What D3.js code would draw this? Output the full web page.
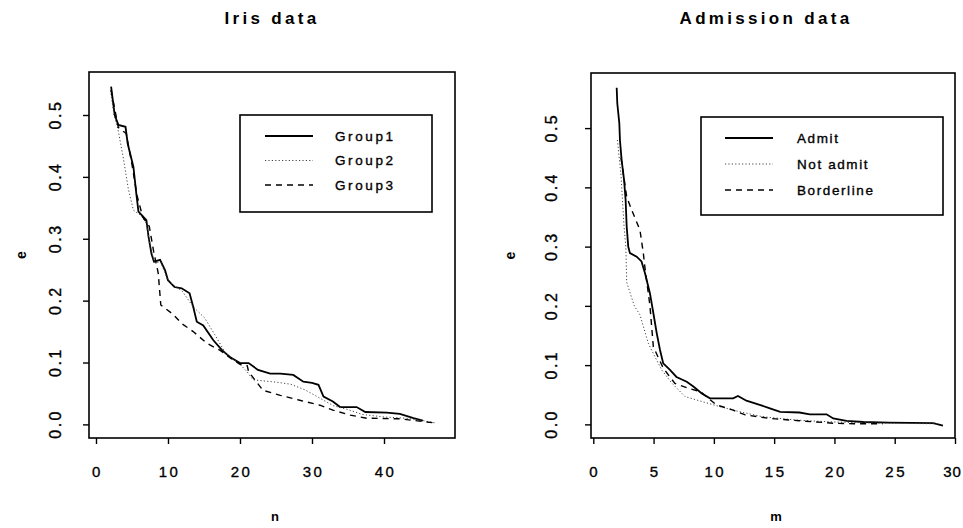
<!DOCTYPE html>
<html>
<head>
<meta charset="utf-8">
<script src="https://cdn.jsdelivr.net/npm/d3@7"></script>
<style>
  body { margin: 0; background: #fff; }
  text { font-family: "Liberation Sans", Arial, sans-serif; fill: #000; }
</style>
</head>
<body>
<svg width="963" height="528"></svg>
<script>
// values: [x, e]
var irisGroup1 = [[2.1,0.546],[2.6,0.50],[3.1,0.484],[4.1,0.481],[4.4,0.454],[5.2,0.416],[5.6,0.373],[5.9,0.344],
  [7.0,0.330],[7.3,0.303],[7.7,0.276],[8.05,0.263],[8.9,0.266],[9.6,0.249],[10.0,0.233],[10.9,0.222],[11.9,0.220],
  [13.0,0.212],[13.5,0.190],[14.0,0.166],[14.9,0.160],[16.3,0.136],[17.5,0.120],[18.6,0.109],[20.0,0.099],[21.2,0.099],
  [22.5,0.088],[24.2,0.082],[25.6,0.082],[27.4,0.080],[28.8,0.069],[30.0,0.067],[30.9,0.064],[31.6,0.045],[32.9,0.037],
  [33.9,0.028],[36.2,0.028],[37.4,0.020],[40.4,0.019],[42.2,0.017],[44.1,0.010],[45.4,0.006]];
var irisGroup2 = [[2.0,0.54],[2.5,0.50],[3.05,0.477],[3.8,0.43],[4.5,0.38],[5.2,0.346],[6.2,0.338],[7.0,0.325],
  [7.5,0.29],[8.1,0.262],[9.0,0.262],[10.0,0.232],[12.0,0.215],[13.5,0.19],[15.1,0.172],[16.5,0.145],[18.0,0.115],
  [20.0,0.097],[21.0,0.085],[21.8,0.072],[25.2,0.068],[27.0,0.065],[29.0,0.056],[31.0,0.043],[33.0,0.030],[35.0,0.024],
  [37.0,0.016],[40.0,0.012],[43.0,0.010],[45.0,0.007],[47.3,0.002]];
var irisGroup3 = [[2.1,0.54],[3.1,0.48],[4.2,0.47],[5.0,0.42],[5.7,0.37],[6.5,0.335],[7.4,0.32],[8.0,0.28],[8.65,0.244],
  [9.0,0.193],[10.7,0.178],[11.9,0.163],[13.5,0.150],[15.4,0.131],[17.2,0.120],[18.6,0.108],[20.0,0.097],[21.0,0.095],
  [21.2,0.085],[23.2,0.055],[25.6,0.047],[28.3,0.039],[31.1,0.031],[32.9,0.023],[35.3,0.015],[37.6,0.010],[42.2,0.009],
  [47.3,0.002]];

var admit = [[1.94,0.568],[1.99,0.542],[2.16,0.508],[2.21,0.480],[2.35,0.446],[2.55,0.413],[2.68,0.379],[2.77,0.334],
  [2.9,0.300],[3.04,0.289],[3.6,0.283],[4.0,0.275],[4.29,0.255],[4.7,0.221],[4.98,0.188],[5.26,0.154],[5.53,0.126],
  [5.8,0.103],[6.36,0.092],[6.9,0.080],[7.75,0.072],[8.3,0.064],[9.0,0.052],[9.68,0.044],[11.6,0.044],[12.0,0.048],
  [12.7,0.040],[13.8,0.033],[14.65,0.027],[15.5,0.021],[17.1,0.020],[17.96,0.017],[19.35,0.017],[19.9,0.010],[21.0,0.006],
  [22.4,0.004],[24.5,0.003],[28.2,0.002],[29.0,-0.002]];
var notAdmit = [[2.0,0.48],[2.3,0.42],[2.55,0.334],[2.7,0.30],[2.77,0.24],[3.4,0.20],[3.87,0.185],[4.56,0.137],
  [4.84,0.125],[5.67,0.092],[6.5,0.07],[7.6,0.047],[9.1,0.038],[10.5,0.030],[12.0,0.022],[14.0,0.013],[17.0,0.007],
  [20.0,0.004],[24.0,0.002],[28.5,0.001]];
var borderline = [[2.3,0.45],[2.77,0.384],[3.18,0.362],[3.87,0.328],[4.15,0.289],[4.25,0.270],[4.7,0.20],[4.98,0.131],
  [5.8,0.095],[6.77,0.069],[7.9,0.061],[8.9,0.055],[10.2,0.033],[11.6,0.024],[12.6,0.016],[14.65,0.010],[17.1,0.006],
  [19.9,0.002],[21.6,0.001],[24.0,0.001]];

var irisTicksX = [0, 10, 20, 30, 40];
var admTicksX = [0, 5, 10, 15, 20, 25, 30];
var ticksY = [0, 0.1, 0.2, 0.3, 0.4, 0.5];
var irisLabels = ["Group1", "Group2", "Group3"];
var admLabels = ["Admit", "Not admit", "Borderline"];

var dashes = [null, "1.2,2.2", "6,5"];
var widths = [1.8, 1, 1.4];

var svg = d3.select("svg");

function panel(opt) {
  var x = d3.scaleLinear().domain(opt.xdom).range([opt.left, opt.right]);
  var y = d3.scaleLinear().domain(opt.ydom).range([opt.bottom, opt.top]);
  var g = svg.append("g");

  var line = d3.line()
      .x(function(d) { return x(d[0]); })
      .y(function(d) { return y(d[1]); });

  g.selectAll("path.curve")
    .data(opt.series)
    .enter().append("path")
      .attr("class", "curve")
      .attr("d", line)
      .attr("fill", "none")
      .attr("stroke", function(d, i) { return i == 1 ? "#444" : "#000"; })
      .attr("stroke-width", function(d, i) { return widths[i]; })
      .attr("stroke-dasharray", function(d, i) { return dashes[i]; });

  // box
  g.append("rect")
      .attr("x", opt.left).attr("y", opt.top)
      .attr("width", opt.right - opt.left).attr("height", opt.bottom - opt.top)
      .attr("fill", "none").attr("stroke", "#000").attr("stroke-width", 1.6);

  var xAxis = g.append("g")
      .attr("transform", "translate(0," + opt.bottom + ")")
      .call(d3.axisBottom(x).tickValues(opt.xticks).tickSize(6).tickPadding(22).tickFormat(d3.format("d")));
  xAxis.select(".domain").remove();
  xAxis.selectAll("line").attr("stroke-width", 1.4);
  xAxis.selectAll("text")
      .attr("font-size", 15).attr("letter-spacing", 2.5).attr("dx", 1)
      .attr("stroke", "#000").attr("stroke-width", 0.35)
      .style("font-family", "Liberation Sans, Arial");
  // keep the last label inside the page edge
  if (x(opt.xticks[opt.xticks.length - 1]) > 945) {
    xAxis.selectAll("text").filter(function(d) { return d == opt.xticks[opt.xticks.length - 1]; })
        .attr("letter-spacing", 1).attr("dx", -3);
  }

  var yAxis = g.append("g")
      .attr("transform", "translate(" + opt.left + ",0)")
      .call(d3.axisLeft(y).tickValues(ticksY).tickSize(6).tickFormat(d3.format(".1f")));
  yAxis.select(".domain").remove();
  yAxis.selectAll("line").attr("stroke-width", 1.4);
  yAxis.selectAll("text")
      .attr("font-size", 16).attr("letter-spacing", 2.5)
      .attr("stroke", "#000").attr("stroke-width", 0.35)
      .style("font-family", "Liberation Sans, Arial")
      .attr("text-anchor", "middle").attr("dy", 0).attr("x", 1).attr("y", 0)
      .attr("transform", "translate(" + (-opt.tickLab) + ",0) rotate(-90) translate(0,6)");

  g.append("text")
      .attr("x", opt.titleX).attr("y", 24)
      .attr("text-anchor", "middle").attr("font-size", 17).attr("font-weight", "bold")
      .attr("letter-spacing", 3.3)
      .text(opt.title);

  g.append("text")
      .attr("x", (opt.left + opt.right) / 2 + 3).attr("y", 521)
      .attr("text-anchor", "middle").attr("font-size", 13).attr("font-weight", "bold")
      .text(opt.xlab);

  g.append("text")
      .attr("transform", "translate(" + (opt.left - opt.ylabOff) + "," + ((opt.top + opt.bottom) / 2) + ") rotate(-90)")
      .attr("text-anchor", "middle").attr("font-size", 14).attr("font-weight", "bold")
      .text("e");

  // legend
  var L = opt.legend;
  var lg = g.append("g");
  lg.append("rect")
      .attr("x", L.x).attr("y", L.y).attr("width", L.w).attr("height", L.h)
      .attr("fill", "#fff").attr("stroke", "#000").attr("stroke-width", 1.6);
  var row = lg.selectAll("g.row")
    .data(opt.labels)
    .enter().append("g")
      .attr("class", "row")
      .attr("transform", function(d, i) { return "translate(0," + (L.y + L.row0 + i * L.step) + ")"; });
  row.append("line")
      .attr("x1", L.x + L.l1).attr("x2", L.x + L.l2)
      .attr("stroke", function(d, i) { return i == 1 ? "#444" : "#000"; })
      .attr("stroke-width", function(d, i) { return widths[i]; })
      .attr("stroke-dasharray", function(d, i) { return dashes[i]; });
  row.append("text")
      .attr("x", L.x + L.tx).attr("dy", "0.35em")
      .attr("font-size", 13.5).attr("letter-spacing", L.ls)
      .attr("stroke", "#000").attr("stroke-width", 0.35)
      .text(function(d) { return d; });
}

panel({
  left: 89, right: 455, top: 72, bottom: 438,
  xdom: [-0.97, 49.86], ydom: [-0.022, 0.5695],
  xticks: irisTicksX, series: [irisGroup1, irisGroup2, irisGroup3],
  title: "Iris data", titleX: 272, xlab: "n", labels: irisLabels, tickLab: 34, ylabOff: 63,
  legend: {x: 240, y: 115, w: 192, h: 97, row0: 21, step: 24.5, l1: 25, l2: 73, tx: 95, ls: 2.6}
});

panel({
  left: 591, right: 955, top: 73, bottom: 438,
  xdom: [-0.19, 30.0], ydom: [-0.023, 0.593],
  xticks: admTicksX, series: [admit, notAdmit, borderline],
  title: "Admission data", titleX: 766, xlab: "m", labels: admLabels, tickLab: 40, ylabOff: 76,
  legend: {x: 701, y: 117, w: 242, h: 98, row0: 21, step: 26, l1: 24, l2: 72, tx: 96, ls: 1.6}
});
</script>
</body>
</html>
